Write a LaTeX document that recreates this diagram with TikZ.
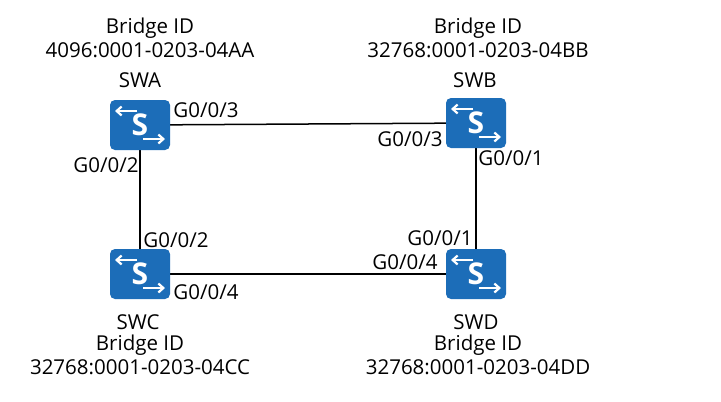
\documentclass[tikz,border=0pt]{standalone}
\usepackage{fontspec}
\setmainfont{Open Sans}
\usetikzlibrary{arrows.meta}
\definecolor{swblue}{HTML}{1C6DB8}
\begin{document}
\begin{tikzpicture}[x=1pt,y=-1pt,
  txt/.style={font=\fontsize{20.5}{22}\selectfont,inner sep=0pt},
  link/.style={line width=1.5pt,black},
  sw/.pic={
    \fill[swblue,rounded corners=5pt] (-30,-25) rectangle (30,25);
    \draw[white,line width=2.2pt,-{Straight Barb[length=5pt,width=9pt]}] (-3,-14) -- (-25,-14);
    \draw[white,line width=2.2pt,-{Straight Barb[length=5pt,width=9pt]}] (3,14) -- (25,14);
    \node[white,font=\bfseries\fontsize{30}{30}\selectfont] at (0,0) {S};
  }]
\useasboundingbox (0,0) rectangle (721,402);
\fill[white] (0,0) rectangle (721,402);
\coordinate (A) at (140,125);
\coordinate (B) at (476,123);
\coordinate (C) at (140,274);
\coordinate (D) at (476,274);
\draw[link] (A) -- (B);
\draw[link] (A) -- (C);
\draw[link] (B) -- (D);
\draw[link] (C) -- (D);
\pic at (A) {sw};
\pic at (B) {sw};
\pic at (C) {sw};
\pic at (D) {sw};
\node[txt] (a1) at (150,28) {Bridge ID};
\node[txt] (a2) at (150,50) {4096:0001-0203-04AA};
\node[txt] (a3) at (140,80) {SWA};
\node[txt] (b1) at (478,28) {Bridge ID};
\node[txt] (b2) at (478,50) {32768:0001-0203-04BB};
\node[txt] (b3) at (475,80) {SWB};
\node[txt] (c3) at (138,322) {SWC};
\node[txt] (c1) at (140,345) {Bridge ID};
\node[txt] (c2) at (140,367) {32768:0001-0203-04CC};
\node[txt] (d3) at (476,322) {SWD};
\node[txt] (d1) at (478,345) {Bridge ID};
\node[txt] (d2) at (478,367) {32768:0001-0203-04DD};
\node[txt] (p1) at (206,110) {G0/0/3};
\node[txt] (p2) at (106,165) {G0/0/2};
\node[txt] (p3) at (410,139) {G0/0/3};
\node[txt] (p4) at (511,158) {G0/0/1};
\node[txt] (p5) at (176,240) {G0/0/2};
\node[txt] (p6) at (206,292) {G0/0/4};
\node[txt] (p7) at (440,238) {G0/0/1};
\node[txt] (p8) at (405,262) {G0/0/4};
\end{tikzpicture}
\end{document}
